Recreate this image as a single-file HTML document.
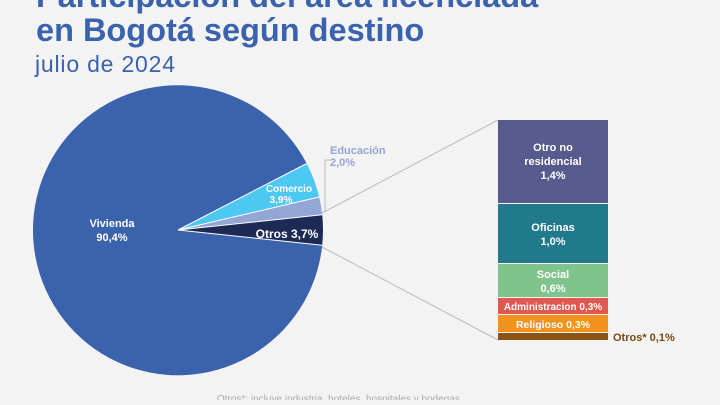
<!DOCTYPE html>
<html><head><meta charset="utf-8"><style>
body{margin:0;width:720px;height:400px;overflow:hidden;background:#f3f3f3;font-family:"Liberation Sans",sans-serif}
</style></head><body>
<svg width="720" height="400" xmlns="http://www.w3.org/2000/svg" font-family="Liberation Sans, sans-serif">
<rect width="720" height="400" fill="#f3f3f3"/>
<g fill="#3a62ad" font-weight="bold">
<text x="36" y="7" font-size="32.5">Participación del área licenciada</text>
<text x="36" y="41" font-size="32.5">en Bogotá según destino</text>
</g>
<text x="35" y="72" font-size="23" fill="#3a62ad" textLength="140">julio de 2024</text>
<path d="M178,230 L322.2,245.2 A145,145 0 1 1 306.7,163.5 Z" fill="#3a62ad"/>
<path d="M178,230 L306.7,163.5 A145,145 0 0 1 319.2,197 Z" fill="#4dc8f2"/>
<path d="M178,230 L319.2,197 A145,145 0 0 1 322.2,214.8 Z" fill="#93a6d6"/>
<path d="M178,230 L322.2,214.8 A145,145 0 0 1 322.2,245.2 Z" fill="#1c2a55"/>
<g stroke="#fff" stroke-width="1" fill="none">
<path d="M178,230 L306.7,163.5 M178,230 L319.2,197 M178,230 L322.2,214.8 M178,230 L322.2,245.2"/>
</g>
<g stroke="#bbb" stroke-width="1" fill="none">
<path d="M322,213 L498,120 M322,247 L498,340 M325,212 L325,160 L330,160"/>
</g>
<g fill="#fff" font-weight="bold" font-size="11" text-anchor="middle">
<text x="112" y="227">Vivienda</text><text x="112" y="241">90,4%</text>
<text x="289" y="192" font-size="10">Comercio</text><text x="281" y="203" font-size="10">3,9%</text>
<text x="287" y="238" font-size="12">Otros 3,7%</text>
</g>
<text x="330" y="154" font-size="11" font-weight="bold" fill="#93a6d6">Educación</text>
<text x="330" y="166" font-size="11" font-weight="bold" fill="#93a6d6">2,0%</text>
<rect x="498" y="120" width="110" height="83" fill="#565a8c"/>
<rect x="498" y="204" width="110" height="59" fill="#21798c"/>
<rect x="498" y="264" width="110" height="33" fill="#7ec48c"/>
<rect x="498" y="298" width="110" height="16" fill="#e2574f"/>
<rect x="498" y="315" width="110" height="17" fill="#f4921e"/>
<rect x="498" y="333" width="110" height="7" fill="#8c5412"/>
<g fill="#fff" font-weight="bold" font-size="11" text-anchor="middle">
<text x="553" y="151">Otro no</text><text x="553" y="165">residencial</text><text x="553" y="179">1,4%</text>
<text x="553" y="231">Oficinas</text><text x="553" y="245">1,0%</text>
<text x="553" y="278">Social</text><text x="553" y="292">0,6%</text>
<text x="553" y="310" font-size="10">Administracion 0,3%</text>
<text x="553" y="328" font-size="10.5">Religioso 0,3%</text>
</g>
<text x="613" y="341" font-size="11" font-weight="bold" fill="#7a4a10">Otros* 0,1%</text>
<text x="217" y="402" font-size="10" fill="#aaa">Otros*: incluye industria, hoteles, hospitales y bodegas</text>
</svg>
</body></html>
